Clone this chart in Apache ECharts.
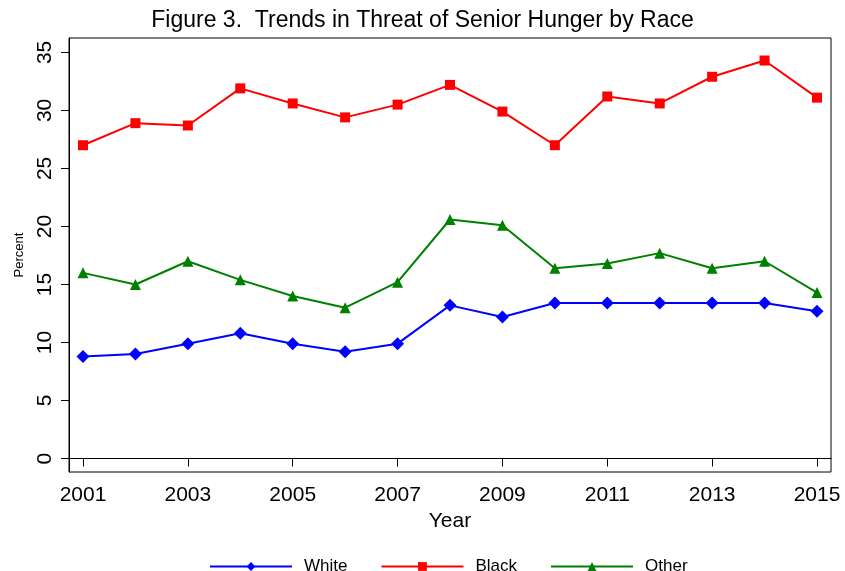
<!DOCTYPE html>
<html><head><meta charset="utf-8">
<script src="https://cdn.jsdelivr.net/npm/echarts@6/dist/echarts.min.js"></script>
<style>html,body{margin:0;padding:0;background:#fff}#c{width:845px;height:571px}</style>
</head><body><div id="c"></div>
<script>
const years = [2001,2002,2003,2004,2005,2006,2007,2008,2009,2010,2011,2012,2013,2014,2015];
const white = [8.8,9.0,9.9,10.8,9.9,9.2,9.9,13.2,12.2,13.4,13.4,13.4,13.4,13.4,12.7];
const black = [27.0,28.9,28.7,31.9,30.6,29.4,30.5,32.2,29.9,27.0,31.2,30.6,32.9,34.3,31.1];
const other = [16.0,15.0,17.0,15.4,14.0,13.0,15.2,20.6,20.1,16.4,16.8,17.7,16.4,17.0,14.3];
const xTicks = [2001,2003,2005,2007,2009,2011,2013,2015];
const yTicks = [0,5,10,15,20,25,30,35];

const F = 'Arial, "Liberation Sans", sans-serif';
const pair = arr => years.map((y,i)=>[y,arr[i]]);
const chart = echarts.init(document.getElementById('c'));
const mk = (name,data,color,symbol,size)=>({
  name, type:'line', data:pair(data), symbol, symbolSize:size,
  lineStyle:{color,width:2}, itemStyle:{color}, color, animation:false
});
chart.setOption({
  animation:false,
  title:{text:'Figure 3.  Trends in Threat of Senior Hunger by Race',left:'center',top:4,
    textStyle:{fontFamily:F,fontSize:23,fontWeight:'normal',color:'#000'}},
  grid:{left:69,right:14,top:38,bottom:99,show:true,borderColor:'#000',borderWidth:1},
  xAxis:{type:'value',min:2000.733,max:2015.267,name:'Year',nameLocation:'middle',nameGap:36,
    nameTextStyle:{fontFamily:F,fontSize:21,color:'#000'},
    axisLine:{lineStyle:{color:'#000'}},splitLine:{show:false},
    axisTick:{length:8,lineStyle:{color:'#000'},customValues:xTicks},
    axisLabel:{fontFamily:F,fontSize:21,color:'#000',margin:13,customValues:xTicks,formatter:v=>String(v)}},
  yAxis:{type:'value',min:-1.16,max:36.24,name:'Percent',nameLocation:'middle',nameGap:43,nameRotate:90,
    nameTextStyle:{fontFamily:F,fontSize:13,color:'#000'},
    axisLine:{show:true,lineStyle:{color:'#000'}},splitLine:{show:false},
    axisTick:{show:true,length:8,lineStyle:{color:'#000'},customValues:yTicks},
    axisLabel:{fontFamily:F,fontSize:21,color:'#000',rotate:90,margin:13,customValues:yTicks,formatter:v=>String(v)}},
  legend:{left:204,top:553,itemWidth:82,itemHeight:11,itemGap:33,
    textStyle:{fontFamily:F,fontSize:17,color:'#000',padding:[0,0,0,7]},
    data:['White','Black','Other']},
  series:[
    mk('White',white,'#0000ff','diamond',13),
    mk('Black',black,'#ff0000','rect',10),
    mk('Other',other,'#008000','triangle',11)
  ]
});
</script></body></html>
